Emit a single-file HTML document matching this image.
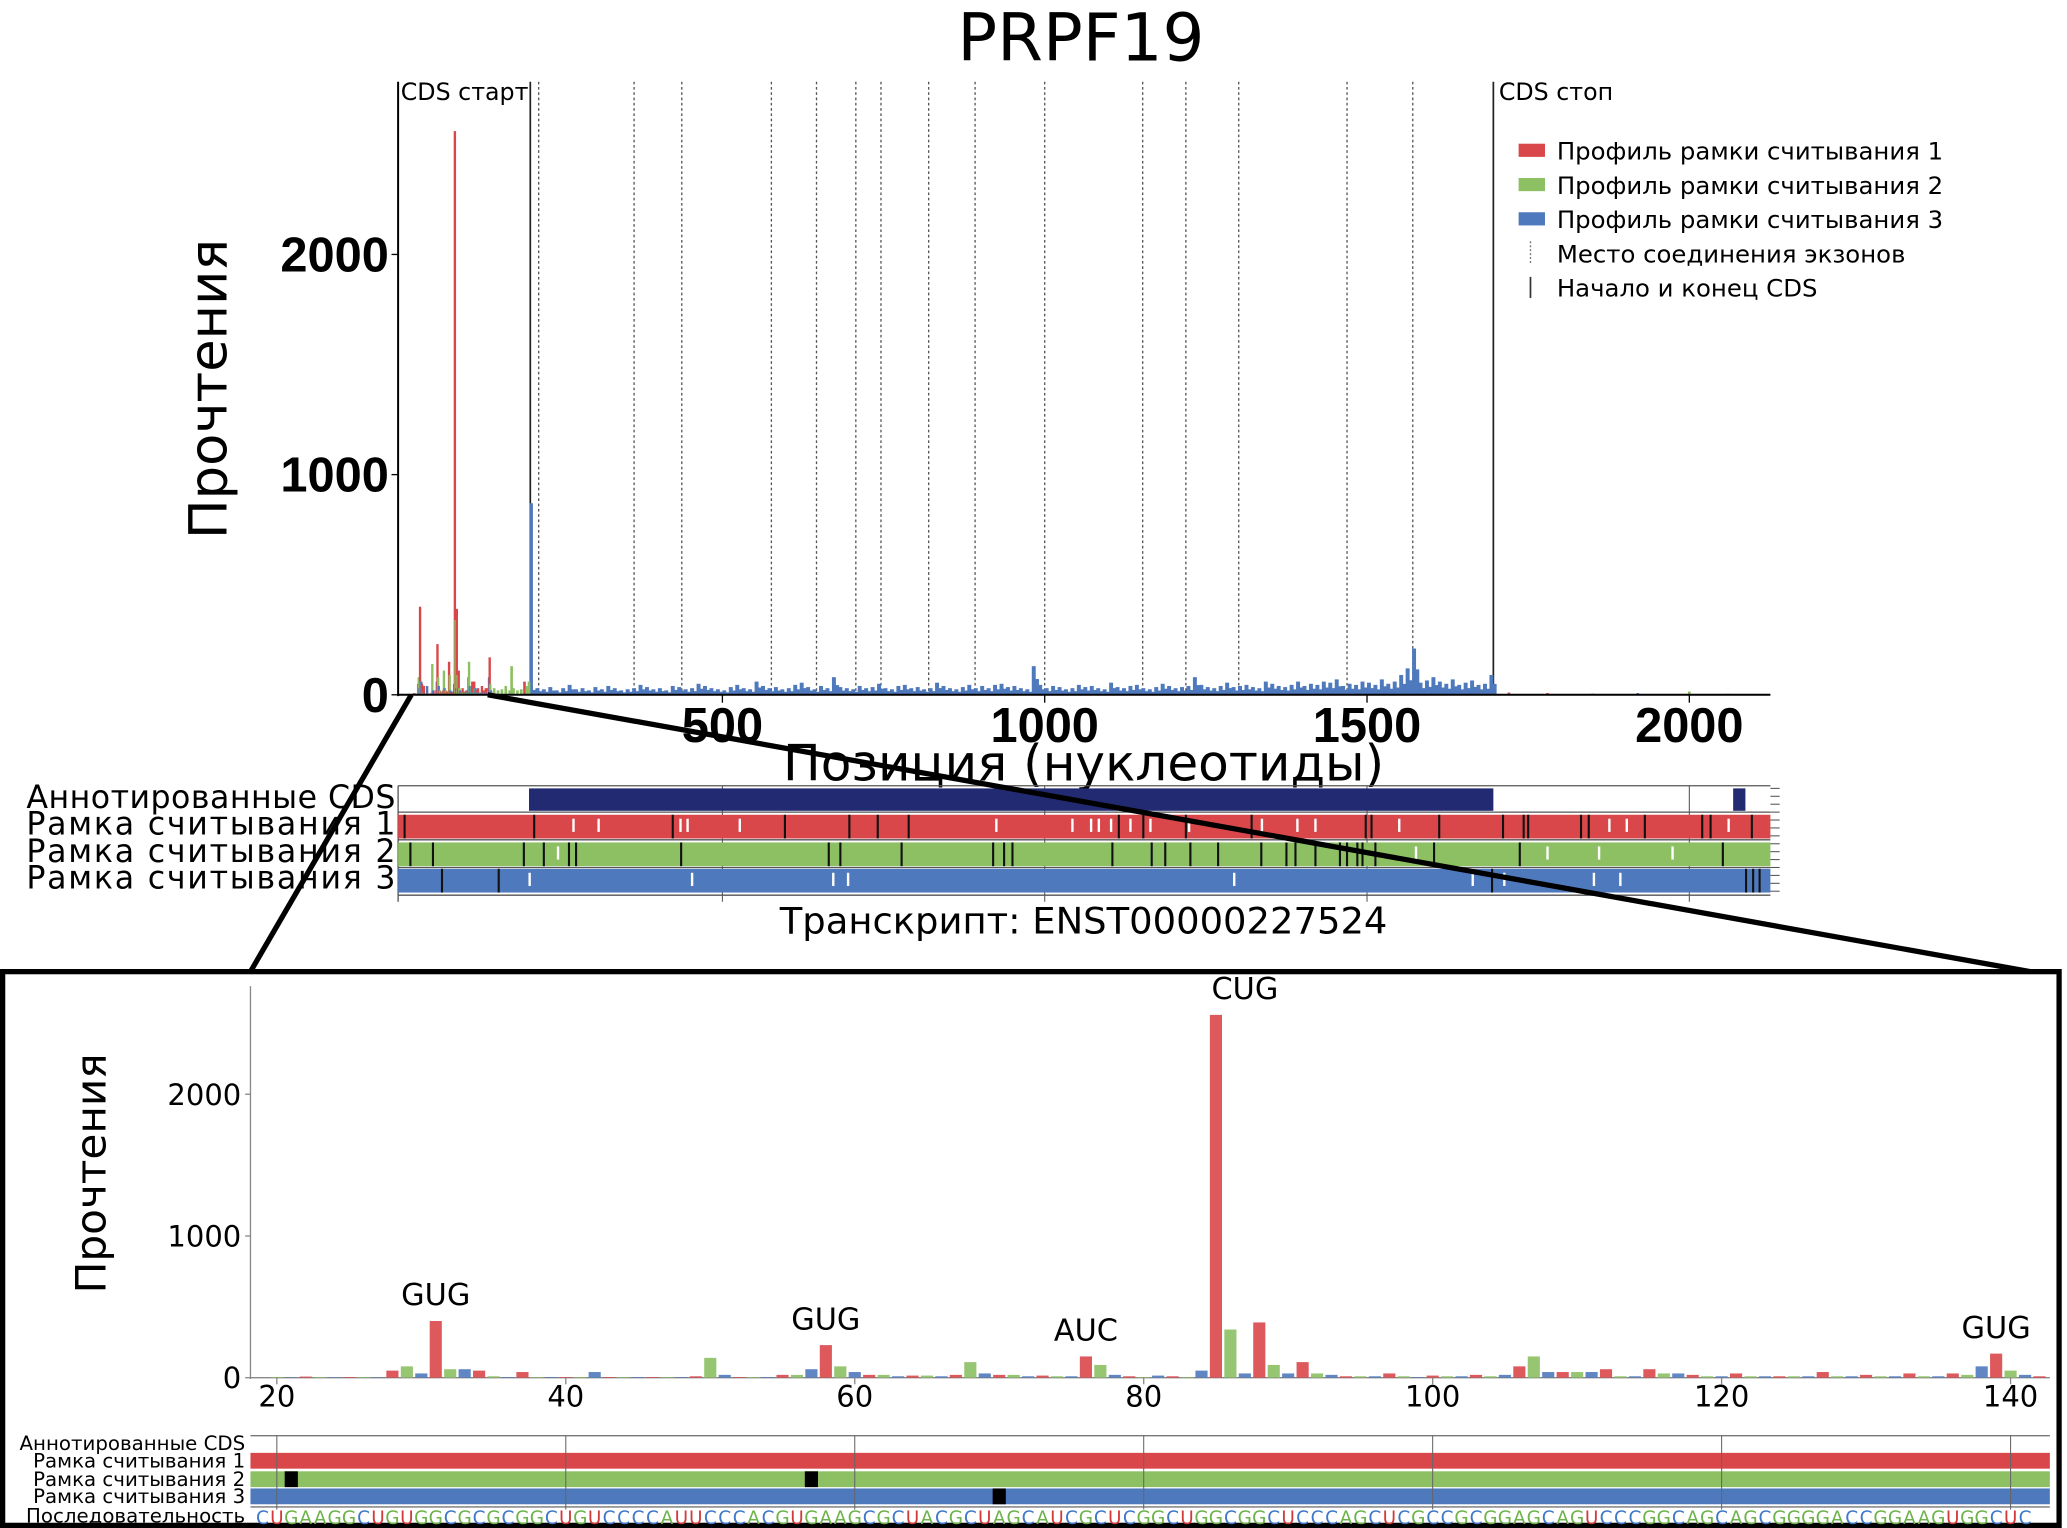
<!DOCTYPE html>
<html><head><meta charset="utf-8"><style>
html,body{margin:0;padding:0;background:#fff;}
svg{display:block;font-family:"DejaVu Sans","Liberation Sans",sans-serif;}
</style></head><body>
<svg id="fig" width="2067" height="1528" viewBox="0 0 1568 1159" preserveAspectRatio="none" xmlns="http://www.w3.org/2000/svg">
<g id="topgrp"></g><g id="botgrp"></g>
</svg>
<script>
// ---------- DATA ----------
const zoomStart = 20;
const zoomValues = [5,3,8,5,3,5,5,3,50,80,30,400,60,60,50,10,5,40,5,5,5,5,40,5,5,5,5,5,5,10,140,20,5,5,5,20,20,60,230,80,40,20,20,10,15,15,10,20,110,30,20,20,10,15,10,10,150,90,20,10,5,15,10,5,50,2560,340,30,390,90,30,110,30,20,10,10,10,30,10,5,15,10,10,20,10,20,80,150,40,40,40,40,60,10,10,60,30,30,20,10,10,30,10,10,10,10,10,40,10,10,20,10,10,30,10,10,30,20,80,170,50,20,10];
const preCdsPos = [146,152,158,164,170,173,176,182,188,193,197,200];
const preCdsVal = [30,20,25,40,20,130,30,20,25,60,40,60];
const cdsStartSpike = 870;
const cdsBlueStart = 203, cdsBlueStep = 10;
const cdsBlue = [40,30,25,35,20,30,45,25,30,20, 35,25,40,30,20,25,30,45,35,25, 30,20,40,35,25,30,50,40,30,25, 20,35,45,30,25,60,40,30,35,25, 30,45,55,35,25,40,30,80,35,30, 25,40,30,35,50,30,25,40,45,30, 35,25,30,55,40,30,25,35,45,30, 40,30,45,50,35,40,30,25,130,45, 30,40,35,25,30,45,35,40,30,25, 55,35,30,40,45,30,25,35,50,40, 30,35,40,80,45,35,30,40,55,35, 40,45,35,30,60,50,40,35,45,60, 40,50,45,60,55,70,40,50,45,60, 55,45,70,50,60,90,120,210,55,65, 80,60,50,70,45,55,65,45,50,90];
const postPos = [1720,1780,1850,1920,2000,2060];
const postVal = [10,8,6,8,15,5];
const exonJunctions = [215,363,437,576,646,707,746,820,892,1000,1152,1219,1301,1469,1571];
const cdsStart = 202, cdsStop = 1696;
const annotCds = [[200,1696],[2068,2087]];
const f1Stops = [7,208,423,597,697,741,789,1115,1153,1219,1321,1498,1507,1612,1711,1743,1750,1832,1844,1931,2020,2033,2097];
const f1Starts = [269,308,435,446,527,925,1043,1072,1084,1103,1133,1164,1224,1337,1392,1420,1550,1876,1903,2061];
const f2Stops = [16,51,192,223,262,273,436,665,683,778,920,937,950,1105,1166,1187,1226,1269,1336,1375,1389,1420,1458,1469,1485,1493,1513,1604,1737,2052];
const f2Starts = [245,1576,1780,1860,1974];
const f3Stops = [65,153,1694,2088,2099,2109];
const f3Starts = [201,453,672,695,1294,1664,1713,1852,1893];
const topXTicks = [500,1000,1500,2000];
const topYTicks = [0,1000,2000];
const botXTicks = [20,40,60,80,100,120,140];
const botYTicks = [0,1000,2000];
const codonLabels = ["GUG","GUG","AUC","CUG","GUG"];
const codonPos = [31,58,76,85,139];
const zoomF2Stops = [21,57];
const zoomF3Stops = [70];
const seqStart = 18;
const sequence = "GCUGAAGGCUGUGGCGCGCGGCUGUCCCCAUUCCCACGUGAAGCGCUACGCUAGCAUCGCUCGGCUGGCGGCUCCCAGCUCGCCGCGGAGCAGUCCCGGCAGCAGCGGGGACCGGAAGUGGCUC";

// ---------- HELPERS ----------
const NS="http://www.w3.org/2000/svg";
const RED="#d9474a",GREEN="#8cc063",BLUE="#4f79bd",NAVY="#222a72";
const topG=document.getElementById('topgrp'), botG=document.getElementById('botgrp');
function mk(tag,attrs,parent,txt){const el=document.createElementNS(NS,tag);for(const k in attrs)el.setAttribute(k,attrs[k]);if(txt!==undefined)el.textContent=txt;parent.appendChild(el);return el;}
function frameColor(p){const m=((p%3)+3)%3;return m===1?RED:(m===2?GREEN:BLUE);}
const tx=p=>303.5+p*0.489, ty=v=>527-v*0.167;
const bx=p=>210+(p-20)*10.96, by=v=>1045-v*0.1075;
const TICKFONT='"Liberation Sans",sans-serif';

// ---------- TOP CHART ----------
let e;
e=mk('text',{x:820,y:46,'font-size':50,'text-anchor':'middle'},topG,'PRPF19');


exonJunctions.forEach(p=>{e=mk('line',{x1:tx(p),x2:tx(p),y1:62,y2:527,stroke:'#555','stroke-width':1,'stroke-dasharray':'2,2'},topG);

});
[cdsStart,cdsStop].forEach(p=>{e=mk('line',{x1:tx(p),x2:tx(p),y1:62,y2:527,stroke:'#222','stroke-width':1.3},topG);

});
e=mk('text',{x:304,y:76,'font-size':18},topG,'CDS старт');


e=mk('text',{x:1137,y:76,'font-size':18},topG,'CDS стоп');


cdsBlue.forEach((v,i)=>{const p=cdsBlueStart+i*cdsBlueStep;
 e=mk('rect',{x:tx(p)-1.5,y:ty(v),width:3,height:v*0.167,fill:BLUE},topG);
 
 
 const h2=v*0.55; e=mk('rect',{x:tx(p+5)-1.5,y:ty(h2),width:3,height:h2*0.167,fill:BLUE},topG);
 
 });
e=mk('rect',{x:tx(cdsStart+1)-1,y:ty(cdsStartSpike),width:2.5,height:cdsStartSpike*0.167,fill:BLUE},topG);


preCdsPos.forEach((p,i)=>{const v=preCdsVal[i];e=mk('rect',{x:tx(p)-1,y:ty(v),width:2,height:v*0.167,fill:frameColor(p)},topG);
 
 });
zoomValues.forEach((v,i)=>{const p=zoomStart+i;e=mk('rect',{x:tx(p)-0.9,y:ty(v),width:1.8,height:v*0.167,fill:frameColor(p)},topG);
 
 });
postPos.forEach((p,i)=>{const v=postVal[i];e=mk('rect',{x:tx(p)-1,y:ty(v),width:2,height:v*0.167,fill:frameColor(p)},topG);
 
 });
e=mk('line',{x1:302,x2:302,y1:62,y2:528,stroke:'#000','stroke-width':1.5},topG);


e=mk('line',{x1:302,x2:1343,y1:527,y2:527,stroke:'#000','stroke-width':1.5},topG);


topXTicks.forEach(t=>{mk('line',{x1:tx(t),x2:tx(t),y1:527,y2:533,stroke:'#000'},topG);
 e=mk('text',{x:tx(t),y:563,'font-size':37,'font-weight':'bold','text-anchor':'middle','font-family':TICKFONT},topG,String(t));
 
 });
topYTicks.forEach(t=>{mk('line',{x1:297,x2:302,y1:ty(t),y2:ty(t),stroke:'#000'},topG);
 e=mk('text',{x:295,y:ty(t)+13,'font-size':37,'font-weight':'bold','text-anchor':'end','font-family':TICKFONT},topG,String(t));
 
 });
e=mk('text',{x:0,y:0,'font-size':40,'text-anchor':'middle',transform:'translate(172,295) rotate(-90)'},topG,'Прочтения');


e=mk('text',{x:822,y:592,'font-size':38,'text-anchor':'middle',textLength:456},topG,'Позиция (нуклеотиды)');


const legTxt=['Профиль рамки считывания 1','Профиль рамки считывания 2','Профиль рамки считывания 3','Место соединения экзонов','Начало и конец CDS'];
const legCol=[RED,GREEN,BLUE];
legTxt.forEach((t,i)=>{const y=114+i*26;
 if(i<3){e=mk('rect',{x:1152,y:y-5,width:20,height:10,fill:legCol[i]},topG);}
 else if(i===3){e=mk('line',{x1:1161,x2:1161,y1:y-9,y2:y+9,stroke:'#777','stroke-dasharray':'1.5,1.5'},topG);}
 else {e=mk('line',{x1:1161,x2:1161,y1:y-8,y2:y+8,stroke:'#333','stroke-width':1.3},topG);}
 
 
 e=mk('text',{x:1181,y:y+7,'font-size':18.5},topG,t);
 
 });
const rows=[{y:598,h:17,col:null},{y:618,h:18,col:RED,stops:f1Stops,starts:f1Starts},{y:639,h:18,col:GREEN,stops:f2Stops,starts:f2Starts},{y:659,h:18,col:BLUE,stops:f3Stops,starts:f3Starts}];
const rowNames=['Аннотированные CDS','Рамка считывания 1','Рамка считывания 2','Рамка считывания 3'];
[596,616,637,658,679].forEach(y=>mk('line',{x1:302,x2:1343,y1:y,y2:y,stroke:'#555','stroke-width':1},topG));
[tx(500),tx(1000),tx(1500),tx(2000)].forEach(x=>mk('line',{x1:x,x2:x,y1:596,y2:684,stroke:'#555','stroke-width':0.8},topG));
mk('line',{x1:302,x2:302,y1:596,y2:684,stroke:'#555'},topG);
annotCds.forEach(s=>{e=mk('rect',{x:tx(s[0]),y:598,width:tx(s[1])-tx(s[0]),height:17,fill:NAVY},topG);
 
 });
rows.forEach((r,i)=>{
 e=mk('text',{x:300,y:r.y+15,'font-size':24,'text-anchor':'end',textLength:280},topG,rowNames[i]);
 
 
 if(!r.col)return;
 e=mk('rect',{x:302,y:r.y,width:1041,height:r.h,fill:r.col},topG);
 
 
 r.stops.forEach(p=>{e=mk('rect',{x:tx(p)-0.8,y:r.y,width:1.6,height:r.h,fill:'#111'},topG);
  
  });
 r.starts.forEach(p=>{e=mk('rect',{x:tx(p)-0.9,y:r.y+3,width:1.8,height:r.h-8,fill:'#fff'},topG);
  
  });
});
for(let k=0;k<14;k++)mk('line',{x1:1343,x2:1350,y1:598+k*6,y2:598+k*6,stroke:'#555','stroke-width':0.8},topG);
e=mk('text',{x:822,y:708,'font-size':28,'text-anchor':'middle'},topG,'Транскрипт: ENST00000227524');



// ---------- BOTTOM (ZOOM) ----------
e=mk('rect',{x:2,y:737,width:1560,height:420,fill:'none',stroke:'#000','stroke-width':4},botG);


e=mk('line',{x1:190,x2:190,y1:748,y2:1046,stroke:'#888','stroke-width':1},botG);


e=mk('line',{x1:190,x2:1555,y1:1045,y2:1045,stroke:'#888','stroke-width':1},botG);


zoomValues.forEach((v,i)=>{const p=zoomStart+i;e=mk('rect',{x:bx(p)-4.6,y:by(v),width:9.2,height:v*0.1075,fill:frameColor(p),opacity:0.9},botG);
 
 });
codonLabels.forEach((t,i)=>{const p=codonPos[i];const v=zoomValues[p-zoomStart];
 const dx = t==='CUG'?22:0;
 e=mk('text',{x:bx(p)+dx,y:by(v)-12,'font-size':23,'text-anchor':'middle'},botG,t);
 
 });
botXTicks.forEach(t=>{mk('line',{x1:bx(t),x2:bx(t),y1:1045,y2:1050,stroke:'#888'},botG);
 e=mk('text',{x:bx(t),y:1067,'font-size':22,'text-anchor':'middle'},botG,String(t));
 
 });
botYTicks.forEach(t=>{mk('line',{x1:186,x2:190,y1:by(t),y2:by(t),stroke:'#888'},botG);
 e=mk('text',{x:183,y:by(t)+8,'font-size':22,'text-anchor':'end'},botG,String(t));
 
 });
e=mk('text',{x:0,y:0,'font-size':32,'text-anchor':'middle',transform:'translate(80,890) rotate(-90)'},botG,'Прочтения');


const zRows=[{y:1102,col:RED,stops:[]},{y:1116,col:GREEN,stops:zoomF2Stops},{y:1129,col:BLUE,stops:zoomF3Stops}];
mk('line',{x1:190,x2:1555,y1:1089,y2:1089,stroke:'#777'},botG);
zRows.forEach(r=>{e=mk('rect',{x:190,y:r.y,width:1365,height:12,fill:r.col},botG);
 
 
 r.stops.forEach(p=>{e=mk('rect',{x:bx(p)-5,y:r.y,width:10,height:12,fill:'#000'},botG);
  
  });});
mk('line',{x1:190,x2:1555,y1:1143,y2:1143,stroke:'#777'},botG);
botXTicks.forEach(t=>mk('line',{x1:bx(t),x2:bx(t),y1:1089,y2:1145,stroke:'#666','stroke-width':0.8},botG));
const zNames=['Аннотированные CDS','Рамка считывания 1','Рамка считывания 2','Рамка считывания 3','Последовательность'];
[1100,1113,1127,1140,1155].forEach((y,i)=>{e=mk('text',{x:186,y:y,'font-size':15,'text-anchor':'end'},botG,zNames[i]);
 
 });
const seqCol={A:'#6cb24a',G:'#6cb24a',C:'#3f78c8',U:'#d23a3a'};
for(let i=0;i<sequence.length;i++){const p=seqStart+i;const x=bx(p);if(x<192||x>1558)continue;
 e=mk('text',{x:x,y:1156,'font-size':14,'text-anchor':'middle',fill:seqCol[sequence[i]]},botG,sequence[i]);
 
 }
e=mk('line',{x1:312,y1:527,x2:190,y2:737,stroke:'#000','stroke-width':4},botG);


e=mk('line',{x1:370,y1:527,x2:1540,y2:737,stroke:'#000','stroke-width':4},botG);


</script>
</body></html>
